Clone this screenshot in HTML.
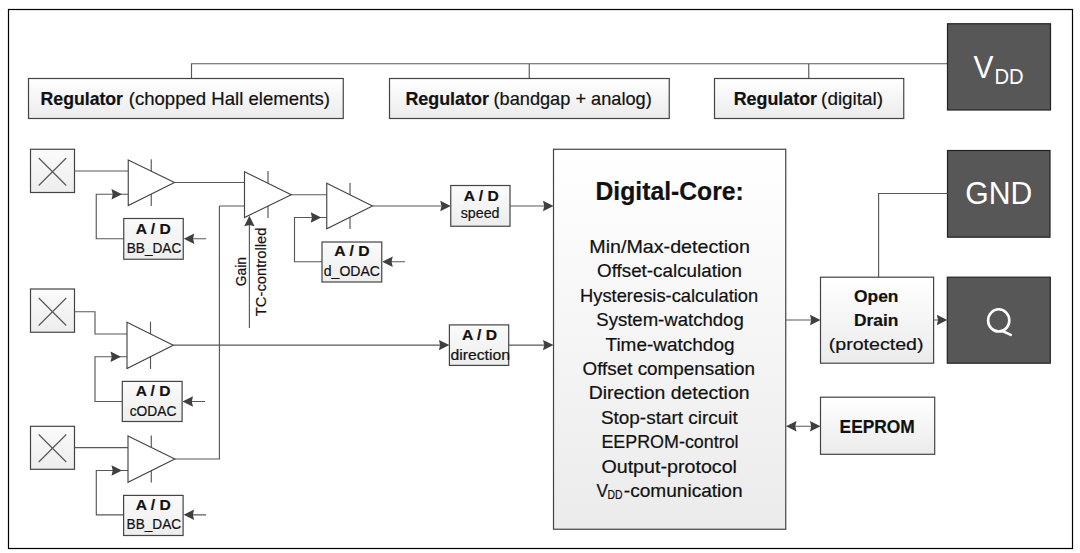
<!DOCTYPE html>
<html><head><meta charset="utf-8">
<style>
html,body{margin:0;padding:0;background:#fff;width:1080px;height:553px;overflow:hidden}
svg{display:block}
text{font-family:"Liberation Sans",sans-serif;fill:#111;stroke:#111;stroke-width:0.2}
.b{font-weight:bold}
.ln{stroke:#585858;stroke-width:1.15;fill:none}
.bx{stroke:#444;stroke-width:1.2}
.ah{fill:#3f3f3f}
.dk{fill:#575757;stroke:#222;stroke-width:1.2}
.wt{fill:#fff}
.tri path{fill:#fff;stroke:#444;stroke-width:1.15}
</style></head><body>
<svg width="1080" height="553" viewBox="0 0 1080 553">
<defs>
<linearGradient id="g1" x1="0" y1="0" x2="0" y2="1">
<stop offset="0" stop-color="#ffffff"/><stop offset="1" stop-color="#ebebeb"/>
</linearGradient>
<linearGradient id="g2" x1="0" y1="0" x2="0" y2="1">
<stop offset="0" stop-color="#fbfbfb"/><stop offset="1" stop-color="#ededed"/>
</linearGradient>
</defs>
<rect x="8.5" y="9.5" width="1064" height="539" fill="none" stroke="#000" stroke-width="1.2"/>

<!-- top bus -->
<path class="ln" d="M191.5 78.5V63.75H947.5M529.25 63.75V78.5M808.75 63.75V78.5"/>
<rect class="bx" x="28.5" y="78.5" width="314.75" height="40" fill="url(#g1)"/>
<rect class="bx" x="389.5" y="78.5" width="279.75" height="40" fill="url(#g1)"/>
<rect class="bx" x="714.5" y="78.5" width="189.25" height="40" fill="url(#g1)"/>
<text class="b" x="40.6" y="105" font-size="17.8" textLength="82.4" lengthAdjust="spacingAndGlyphs">Regulator</text>
<text x="128.75" y="105" font-size="17.8" textLength="201.25" lengthAdjust="spacingAndGlyphs">(chopped Hall elements)</text>
<text class="b" x="405.4" y="105" font-size="17.8" textLength="83.5" lengthAdjust="spacingAndGlyphs">Regulator</text>
<text x="493.5" y="105" font-size="17.8" textLength="158.2" lengthAdjust="spacingAndGlyphs">(bandgap + analog)</text>
<text class="b" x="733.7" y="105" font-size="17.8" textLength="83.3" lengthAdjust="spacingAndGlyphs">Regulator</text>
<text x="821.1" y="105" font-size="17.8" textLength="62" lengthAdjust="spacingAndGlyphs">(digital)</text>

<!-- dark pins -->
<rect class="dk" x="947.5" y="23.75" width="103" height="86.25"/>
<text class="wt" x="973.5" y="77.5" font-size="32" textLength="20" lengthAdjust="spacingAndGlyphs" style="fill:#fff;stroke:none">V</text>
<text class="wt" x="994.5" y="83.75" font-size="21.5" textLength="29.25" lengthAdjust="spacingAndGlyphs" style="fill:#fff;stroke:none">DD</text>
<rect class="dk" x="947.5" y="150.5" width="102.5" height="86.7"/>
<text x="965.3" y="203.8" font-size="31.5" textLength="67" lengthAdjust="spacingAndGlyphs" style="fill:#fff;stroke:none">GND</text>
<rect class="dk" x="947.3" y="277.2" width="103" height="86"/>
<ellipse cx="998.7" cy="320.4" rx="10.6" ry="11.1" fill="none" stroke="#fff" stroke-width="2.6"/>
<path d="M1002.5 331L1010.8 334.9" stroke="#fff" stroke-width="2.5" stroke-linecap="round"/>

<!-- hall sensors -->
<g class="bx" fill="url(#g2)">
<rect x="30.5" y="149.25" width="44" height="43.25"/>
<rect x="30.5" y="289" width="44" height="43.25"/>
<rect x="30.5" y="426.3" width="44" height="43"/>
</g>
<path class="ln" d="M38.75 158L66.25 185.5M66.25 158L38.75 185.5M38.75 298L66.25 325.5M66.25 298L38.75 325.5M38.75 434.5L66.25 462M66.25 434.5L38.75 462"/>

<!-- wires -->
<path class="ln" d="M74.5 171H128.25M174.5 182.5H244.5M219.4 206H244.5M219.4 206V459H174.8M291.25 194.75H326.75M372.5 206H441M510 206H544M173.25 345.1H440M508.7 345.1H544"/>
<path class="ln" d="M123.75 238.75H96.25V194.25H128.25M206.25 238.75H192"/>
<path class="ln" d="M322.5 261.75H294.5V217.5H326.75M405 261.75H391"/>
<path class="ln" d="M74.5 311.75H95V334H127"/>
<path class="ln" d="M122.5 401.5H95V356.75H127M205 401.5H191"/>
<path class="ln" d="M74.7 447.6H128"/>
<path class="ln" d="M123.6 514.8H96.3V470.5H128M206 514.8H192"/>
<path class="ln" d="M249.4 328V222"/>
<path class="ln" d="M785.75 320H812M933.6 320H938M947.5 193.5H878.6V277.2M794 426.2H812"/>

<!-- triangles with ticks -->
<path class="ln" d="M151.25 159.25V206M268 171V218M350 183V229M150.5 321.75V369M151.3 435.4V482.4"/>
<g class="tri">
<path d="M128.25 160L174.5 182.5L128.25 205.5Z"/>
<path d="M244.5 171.75L291.25 194.75L244.5 217.5Z"/>
<path d="M326.75 183.2L372.5 206L326.75 228.7Z"/>
<path d="M127 322.25L173.25 345.25L127 368.5Z"/>
<path d="M128 436L174.8 458.9L128 482.2Z"/>
</g>

<!-- arrowheads -->
<g class="ah">
<path d="M122.00 194.25L111.50 189.05L112.70 194.25L111.50 199.45Z"/>
<path d="M321.25 217.50L310.75 212.30L311.95 217.50L310.75 222.70Z"/>
<path d="M121.00 356.75L110.50 351.55L111.70 356.75L110.50 361.95Z"/>
<path d="M122.00 470.50L111.50 465.30L112.70 470.50L111.50 475.70Z"/>
<path d="M183.75 238.75L194.25 233.55L193.05 238.75L194.25 243.95Z"/>
<path d="M382.25 261.75L392.75 256.55L391.55 261.75L392.75 266.95Z"/>
<path d="M182.50 401.50L193.00 396.30L191.80 401.50L193.00 406.70Z"/>
<path d="M183.60 514.80L194.10 509.60L192.90 514.80L194.10 520.00Z"/>
<path d="M450.75 206L440.25 200.80L441.45 206L440.25 211.20Z"/>
<path d="M553.50 206L543.00 200.80L544.20 206L543.00 211.20Z"/>
<path d="M449.40 345.10L438.90 339.90L440.10 345.10L438.90 350.30Z"/>
<path d="M553.50 345.10L543.00 339.90L544.20 345.10L543.00 350.30Z"/>
<path d="M249.40 215.70L244.20 226.20L249.40 225.00L254.60 226.20Z"/>
<path d="M820.50 320.00L810.00 314.80L811.20 320.00L810.00 325.20Z"/>
<path d="M947.30 320.00L936.80 314.80L938.00 320.00L936.80 325.20Z"/>
<path d="M820.50 426.20L810.00 421.00L811.20 426.20L810.00 431.40Z"/>
<path d="M786.00 426.20L796.50 421.00L795.30 426.20L796.50 431.40Z"/>
</g>

<!-- small A/D boxes -->
<g class="bx" fill="url(#g2)">
<rect x="123.75" y="218.5" width="59.5" height="40.75"/>
<rect x="322" y="242" width="59.75" height="40"/>
<rect x="122.3" y="381.4" width="59.8" height="40.1"/>
<rect x="123.6" y="495.4" width="59.5" height="40.1"/>
<rect x="450.75" y="185.5" width="59.25" height="40.75"/>
<rect x="449.4" y="324.9" width="59.3" height="40.5"/>
</g>
<g font-size="14">
<text class="b" x="135.75" y="233.5" textLength="35" lengthAdjust="spacingAndGlyphs">A / D</text>
<text x="126.75" y="253" textLength="54.5" lengthAdjust="spacingAndGlyphs">BB_DAC</text>
<text class="b" x="334.25" y="256.25" textLength="35.25" lengthAdjust="spacingAndGlyphs">A / D</text>
<text x="323.75" y="276.25" textLength="56.25" lengthAdjust="spacingAndGlyphs">d_ODAC</text>
<text class="b" x="135.7" y="395.9" textLength="34.7" lengthAdjust="spacingAndGlyphs">A / D</text>
<text x="129.7" y="415.7" textLength="46.7" lengthAdjust="spacingAndGlyphs">cODAC</text>
<text class="b" x="135.7" y="510" textLength="35" lengthAdjust="spacingAndGlyphs">A / D</text>
<text x="126.6" y="528.5" textLength="54.5" lengthAdjust="spacingAndGlyphs">BB_DAC</text>
<text class="b" x="463.75" y="201" textLength="35" lengthAdjust="spacingAndGlyphs">A / D</text>
<text x="460.75" y="218" textLength="38.75" lengthAdjust="spacingAndGlyphs">speed</text>
<text class="b" x="462" y="339.8" textLength="35.1" lengthAdjust="spacingAndGlyphs">A / D</text>
<text x="450.4" y="360" textLength="59.6" lengthAdjust="spacingAndGlyphs">direction</text>
</g>
<g font-size="14">
<text transform="translate(246.25 286.25) rotate(-90)" textLength="29.25" lengthAdjust="spacingAndGlyphs">Gain</text>
<text transform="translate(266.25 316.25) rotate(-90)" textLength="88.75" lengthAdjust="spacingAndGlyphs">TC-controlled</text>
</g>

<!-- digital core -->
<rect class="bx" x="553.5" y="149.25" width="232.25" height="380" fill="url(#g1)"/>
<text class="b" x="595.5" y="200.3" font-size="26.3" textLength="148.25" lengthAdjust="spacingAndGlyphs">Digital-Core:</text>
<g font-size="17.8">
<text x="589.25" y="253" textLength="160.75" lengthAdjust="spacingAndGlyphs">Min/Max-detection</text>
<text x="597" y="277.1" textLength="145" lengthAdjust="spacingAndGlyphs">Offset-calculation</text>
<text x="580" y="301.75" textLength="178.25" lengthAdjust="spacingAndGlyphs">Hysteresis-calculation</text>
<text x="596.25" y="326" textLength="147.5" lengthAdjust="spacingAndGlyphs">System-watchdog</text>
<text x="605.5" y="350.5" textLength="129" lengthAdjust="spacingAndGlyphs">Time-watchdog</text>
<text x="582.5" y="374.75" textLength="172.5" lengthAdjust="spacingAndGlyphs">Offset compensation</text>
<text x="588.75" y="398.5" textLength="160.75" lengthAdjust="spacingAndGlyphs">Direction detection</text>
<text x="600.9" y="424" textLength="136.9" lengthAdjust="spacingAndGlyphs">Stop-start circuit</text>
<text x="601.4" y="447.9" textLength="137.2" lengthAdjust="spacingAndGlyphs">EEPROM-control</text>
<text x="601.4" y="472.5" textLength="135.6" lengthAdjust="spacingAndGlyphs">Output-protocol</text>
<text x="596.5" y="496.8" textLength="11.5" lengthAdjust="spacingAndGlyphs">V</text>
<text x="607.5" y="499.3" font-size="12" textLength="15" lengthAdjust="spacingAndGlyphs">DD</text>
<text x="623.8" y="496.8" textLength="118.8" lengthAdjust="spacingAndGlyphs">-comunication</text>
</g>

<!-- open drain, eeprom -->
<rect class="bx" x="820.5" y="277.2" width="113.1" height="86" fill="url(#g1)"/>
<text class="b" x="854" y="301.8" font-size="17" textLength="44.5" lengthAdjust="spacingAndGlyphs">Open</text>
<text class="b" x="854" y="326" font-size="17" textLength="44.5" lengthAdjust="spacingAndGlyphs">Drain</text>
<text x="828.8" y="350.2" font-size="17" textLength="94.7" lengthAdjust="spacingAndGlyphs">(protected)</text>
<rect class="bx" x="820.5" y="397.2" width="114.2" height="57.1" fill="url(#g1)"/>
<text class="b" x="839.6" y="433.4" font-size="18" textLength="75.2" lengthAdjust="spacingAndGlyphs">EEPROM</text>
</svg>
</body></html>
